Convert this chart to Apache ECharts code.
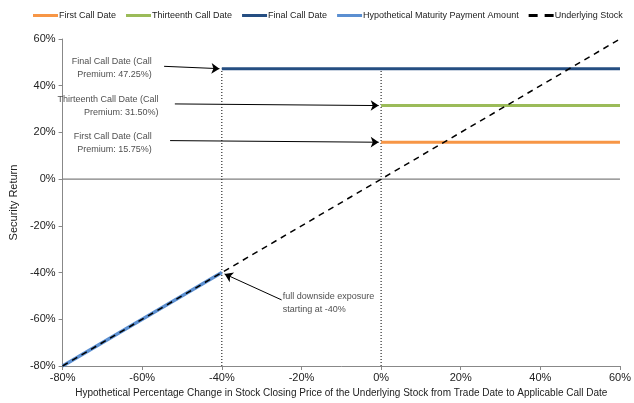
<!DOCTYPE html>
<html>
<head>
<meta charset="utf-8">
<script src="https://cdn.jsdelivr.net/npm/echarts@6/dist/echarts.min.js"></script>
<style>
  html, body { margin: 0; padding: 0; background: #fff; }
  #chart { width: 634px; height: 403px; }
</style>
</head>
<body>
<div id="chart"></div>
<script>
// Payoff profile of the call-able security versus the underlying stock
const tickValues = [-80, -60, -40, -20, 0, 20, 40, 60];

const firstCall = [[0, 15.75], [60, 15.75]];
const thirteenthCall = [[0, 31.5], [60, 31.5]];
const finalCall = [[-40, 47.25], [60, 47.25]];
const maturityPayment = [[-80, -80], [-40, -40]];
const underlyingStock = [[-80, -80], [60, 60]];

const zeroLine = [[-80, 0], [60, 0]];
const barrierGuide = [[-40, -80], [-40, 47.25]];
const callGuide = [[0, -80], [0, 47.25]];

// annotation text anchors and arrow endpoints (data coordinates)
const noteTexts = [
  { text: 'Final Call Date (Call\nPremium: 47.25%)', at: [-57.6, 47.4], align: 'right' },
  { text: 'Thirteenth Call Date (Call\nPremium: 31.50%)', at: [-55.9, 31.2], align: 'right' },
  { text: 'First Call Date (Call\nPremium: 15.75%)', at: [-57.6, 15.4], align: 'right' },
  { text: 'full downside exposure\nstarting at -40%', at: [-24.7, -53.1], align: 'left' }
];
const noteArrows = [
  [[-54.5, 48.3], [-40.6, 47.3]],
  [[-51.8, 32.2], [-0.6, 31.5]],
  [[-53.0, 16.5], [-0.6, 15.8]],
  [[-25.0, -51.7], [-39.3, -40.6]]
];

const FONT = 'Liberation Sans, Arial, sans-serif';
const TXT = '#222';
const AXIS = '#888';

const chart = echarts.init(document.getElementById('chart'));

function guide(data, z) {
  return {
    type: 'line', data: data, symbol: 'none', silent: true, z: z,
    lineStyle: { color: '#000', width: 1, type: [1, 2] }
  };
}

const dashIcon = 'path://M0,0h9v3h-9z M16,0h9v3h-9z';

chart.setOption({
  animation: false,
  textStyle: { fontFamily: FONT },
  legend: {
    top: 6, left: 28,
    itemWidth: 25, itemHeight: 3, itemGap: 10,
    icon: 'rect',
    textStyle: { fontSize: 9, color: TXT, fontFamily: FONT, padding: [0, 0, 0, -4] },
    data: [
      { name: 'First Call Date' },
      { name: 'Thirteenth Call Date' },
      { name: 'Final Call Date' },
      { name: 'Hypothetical Maturity Payment Amount' },
      { name: 'Underlying Stock', icon: dashIcon }
    ]
  },
  grid: { left: 52, right: 10, top: 39, bottom: 36, containLabel: false },
  xAxis: {
    type: 'value', min: tickValues[0], max: tickValues[tickValues.length - 1], interval: 20,
    name: 'Hypothetical Percentage Change in Stock Closing Price of the Underlying Stock from Trade Date to Applicable Call Date',
    nameLocation: 'middle', nameGap: 22,
    nameTextStyle: { fontSize: 10, color: TXT, fontFamily: FONT },
    axisLine: { onZero: false, lineStyle: { color: AXIS, width: 1 } },
    axisTick: { show: true, length: 4, lineStyle: { color: AXIS } },
    axisLabel: { fontSize: 11, color: TXT, margin: 6, formatter: v => v + '%' },
    splitLine: { show: false }
  },
  yAxis: {
    type: 'value', min: tickValues[0], max: tickValues[tickValues.length - 1], interval: 20,
    name: 'Security Return', nameLocation: 'middle', nameGap: 35, nameRotate: 90,
    nameTextStyle: { fontSize: 11, color: TXT, fontFamily: FONT },
    axisLine: { show: true, onZero: false, lineStyle: { color: AXIS, width: 1 } },
    axisTick: { show: true, length: 4, lineStyle: { color: AXIS } },
    axisLabel: { fontSize: 11, color: TXT, margin: 7, formatter: v => v + '%' },
    splitLine: { show: false }
  },
  series: [
    { type: 'line', data: zeroLine, symbol: 'none', silent: true, z: 1,
      lineStyle: { color: '#7f7f7f', width: 1.2 } },
    guide(barrierGuide, 2),
    guide(callGuide, 2),
    { name: 'First Call Date', type: 'line', data: firstCall, symbol: 'none', z: 3,
      color: '#F79646', lineStyle: { color: '#F79646', width: 3 } },
    { name: 'Thirteenth Call Date', type: 'line', data: thirteenthCall, symbol: 'none', z: 3,
      color: '#9BBB59', lineStyle: { color: '#9BBB59', width: 3 } },
    { name: 'Final Call Date', type: 'line', data: finalCall, symbol: 'none', z: 3,
      color: '#254E82', lineStyle: { color: '#254E82', width: 3 } },
    { name: 'Hypothetical Maturity Payment Amount', type: 'line', data: maturityPayment, symbol: 'none', z: 4,
      color: '#5B8FD1', lineStyle: { color: '#5B8FD1', width: 3.5 } },
    { name: 'Underlying Stock', type: 'line', data: underlyingStock, symbol: 'none', z: 5,
      color: '#000', lineStyle: { color: '#000', width: 1.5, type: [6, 5] } },
    { type: 'scatter', silent: true, z: 6, symbolSize: 0,
      data: noteTexts.map(n => ({
        value: n.at,
        label: {
          show: true, position: 'inside', formatter: n.text,
          align: n.align, verticalAlign: 'middle',
          fontSize: 9, lineHeight: 13, color: TXT, fontFamily: FONT
        }
      })),
      markLine: {
        silent: true, symbol: ['none', 'arrow'], symbolSize: 8,
        label: { show: false },
        lineStyle: { color: '#000', width: 1, type: 'solid' },
        data: noteArrows.map(a => [{ coord: a[0] }, { coord: a[1] }])
      }
    }
  ]
});
</script>
</body>
</html>
